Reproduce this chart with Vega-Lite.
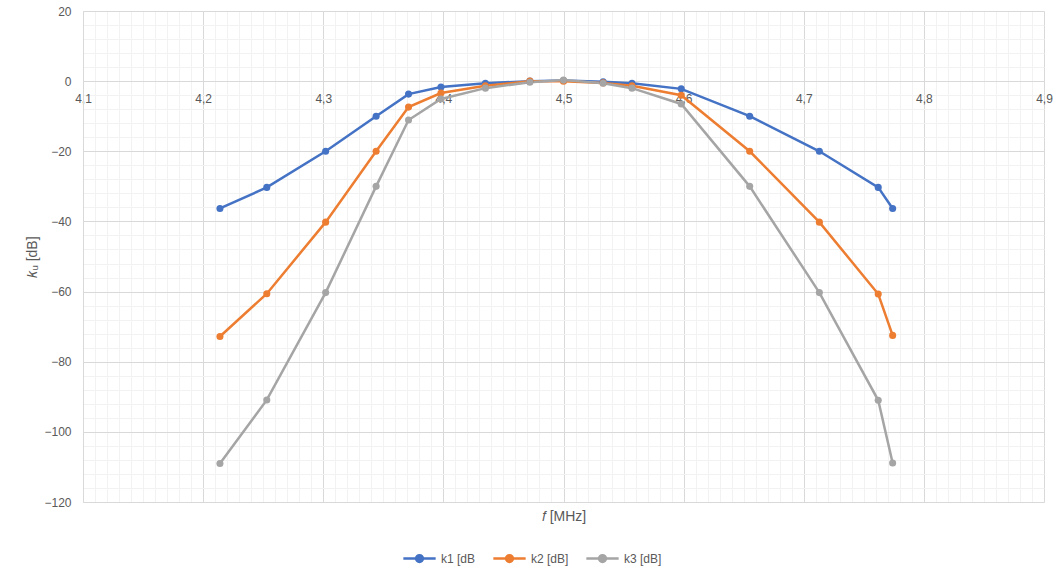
{
  "$schema": "https://vega.github.io/schema/vega-lite/v6.json",
  "width": 961,
  "height": 491,
  "autosize": {"type": "none"},
  "padding": {"left": 83, "top": 11, "right": 15, "bottom": 73},
  "config": {
    "background": "white",
    "view": {"stroke": "transparent"},
    "font": "Liberation Sans",
    "axis": {"labelColor": "#595959", "labelFontSize": 12, "titleColor": "#595959", "titleFontWeight": "normal", "titleFontSize": 14}
  },
  "data": {
    "values": [
      {"f": 4.214, "k": -36.3, "series": "k1 [dB"},
      {"f": 4.253, "k": -30.3, "series": "k1 [dB"},
      {"f": 4.302, "k": -20.0, "series": "k1 [dB"},
      {"f": 4.344, "k": -10.0, "series": "k1 [dB"},
      {"f": 4.371, "k": -3.7, "series": "k1 [dB"},
      {"f": 4.398, "k": -1.7, "series": "k1 [dB"},
      {"f": 4.435, "k": -0.6, "series": "k1 [dB"},
      {"f": 4.472, "k": 0.0, "series": "k1 [dB"},
      {"f": 4.5, "k": 0.2, "series": "k1 [dB"},
      {"f": 4.533, "k": -0.2, "series": "k1 [dB"},
      {"f": 4.557, "k": -0.6, "series": "k1 [dB"},
      {"f": 4.598, "k": -2.2, "series": "k1 [dB"},
      {"f": 4.655, "k": -10.0, "series": "k1 [dB"},
      {"f": 4.713, "k": -20.0, "series": "k1 [dB"},
      {"f": 4.762, "k": -30.3, "series": "k1 [dB"},
      {"f": 4.774, "k": -36.3, "series": "k1 [dB"},
      {"f": 4.214, "k": -72.8, "series": "k2 [dB]"},
      {"f": 4.253, "k": -60.6, "series": "k2 [dB]"},
      {"f": 4.302, "k": -40.2, "series": "k2 [dB]"},
      {"f": 4.344, "k": -20.0, "series": "k2 [dB]"},
      {"f": 4.371, "k": -7.4, "series": "k2 [dB]"},
      {"f": 4.398, "k": -3.4, "series": "k2 [dB]"},
      {"f": 4.435, "k": -1.3, "series": "k2 [dB]"},
      {"f": 4.472, "k": 0.0, "series": "k2 [dB]"},
      {"f": 4.5, "k": 0.0, "series": "k2 [dB]"},
      {"f": 4.533, "k": -0.5, "series": "k2 [dB]"},
      {"f": 4.557, "k": -1.3, "series": "k2 [dB]"},
      {"f": 4.598, "k": -4.0, "series": "k2 [dB]"},
      {"f": 4.655, "k": -20.0, "series": "k2 [dB]"},
      {"f": 4.713, "k": -40.2, "series": "k2 [dB]"},
      {"f": 4.762, "k": -60.7, "series": "k2 [dB]"},
      {"f": 4.774, "k": -72.5, "series": "k2 [dB]"},
      {"f": 4.214, "k": -109.0, "series": "k3 [dB]"},
      {"f": 4.253, "k": -90.9, "series": "k3 [dB]"},
      {"f": 4.302, "k": -60.3, "series": "k3 [dB]"},
      {"f": 4.344, "k": -30.0, "series": "k3 [dB]"},
      {"f": 4.371, "k": -11.1, "series": "k3 [dB]"},
      {"f": 4.398, "k": -5.1, "series": "k3 [dB]"},
      {"f": 4.435, "k": -2.0, "series": "k3 [dB]"},
      {"f": 4.472, "k": -0.3, "series": "k3 [dB]"},
      {"f": 4.5, "k": 0.3, "series": "k3 [dB]"},
      {"f": 4.533, "k": -0.6, "series": "k3 [dB]"},
      {"f": 4.557, "k": -2.0, "series": "k3 [dB]"},
      {"f": 4.598, "k": -6.5, "series": "k3 [dB]"},
      {"f": 4.655, "k": -30.0, "series": "k3 [dB]"},
      {"f": 4.713, "k": -60.3, "series": "k3 [dB]"},
      {"f": 4.762, "k": -91.0, "series": "k3 [dB]"},
      {"f": 4.774, "k": -108.9, "series": "k3 [dB]"}
    ]
  },
  "mark": {"type": "line", "strokeWidth": 2.5, "point": {"filled": true, "size": 50}},
  "encoding": {
    "x": {
      "field": "f",
      "type": "quantitative",
      "scale": {"domain": [4.1, 4.9], "nice": false, "zero": false},
      "axis": {
        "values": [4.1, 4.11, 4.12, 4.13, 4.14, 4.15, 4.16, 4.17, 4.18, 4.19, 4.2, 4.21, 4.22, 4.23, 4.24, 4.25, 4.26, 4.27, 4.28, 4.29, 4.3, 4.31, 4.32, 4.33, 4.34, 4.35, 4.36, 4.37, 4.38, 4.39, 4.4, 4.41, 4.42, 4.43, 4.44, 4.45, 4.46, 4.47, 4.48, 4.49, 4.5, 4.51, 4.52, 4.53, 4.54, 4.55, 4.56, 4.57, 4.58, 4.59, 4.6, 4.61, 4.62, 4.63, 4.64, 4.65, 4.66, 4.67, 4.68, 4.69, 4.7, 4.71, 4.72, 4.73, 4.74, 4.75, 4.76, 4.77, 4.78, 4.79, 4.8, 4.81, 4.82, 4.83, 4.84, 4.85, 4.86, 4.87, 4.88, 4.89, 4.9],
        "labelExpr": "round(datum.value*100)%10==0 ? replace(format(datum.value,'.1f'),'.',',') : ''",
        "gridColor": {"condition": {"test": "round(datum.value*100)%10==0", "value": "#d9d9d9"}, "value": "#f2f2f2"},
        "offset": -421,
        "ticks": false,
        "domainColor": "#d9d9d9",
        "labelPadding": 12,
        "labelFlush": false,
        "labelOverlap": false,
        "title": "𝑓 [MHz]",
        "titleY": 435,
        "titleBaseline": "middle"
      }
    },
    "y": {
      "field": "k",
      "type": "quantitative",
      "scale": {"domain": [-120, 20], "nice": false, "zero": false},
      "axis": {
        "values": [-120, -116, -112, -108, -104, -100, -96, -92, -88, -84, -80, -76, -72, -68, -64, -60, -56, -52, -48, -44, -40, -36, -32, -28, -24, -20, -16, -12, -8, -4, 0, 4, 8, 12, 16, 20],
        "labelExpr": "datum.value%20==0 ? format(datum.value,'d') : ''",
        "gridColor": {"condition": {"test": "datum.value%20==0", "value": "#d9d9d9"}, "value": "#f2f2f2"},
        "ticks": false,
        "domainColor": "#d9d9d9",
        "labelPadding": 12,
        "labelOverlap": false,
        "title": "𝑘ᵤ [dB]",
        "titlePadding": 4
      }
    },
    "color": {
      "field": "series",
      "type": "nominal",
      "title": null,
      "scale": {"domain": ["k1 [dB", "k2 [dB]", "k3 [dB]"], "range": ["#4472c4", "#ed7d31", "#a5a5a5"]},
      "legend": {
        "orient": "none",
        "direction": "horizontal",
        "legendX": 318,
        "legendY": 529,
        "symbolType": "M-0.95,0L0.95,0M-0.2,0A0.2,0.2 0 1,0 0.2,0A0.2,0.2 0 1,0 -0.2,0Z",
        "symbolSize": 1156,
        "symbolStrokeWidth": 2.5,
        "labelFontSize": 12,
        "labelColor": "#595959",
        "labelOffset": 3,
        "columnPadding": 12
      }
    }
  }
}
